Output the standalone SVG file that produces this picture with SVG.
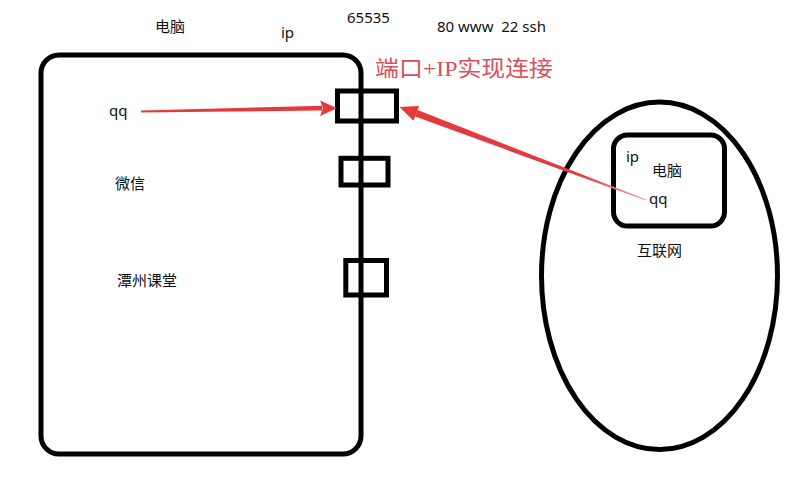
<svg xmlns="http://www.w3.org/2000/svg" width="809" height="499" viewBox="0 0 809 499">
<defs>
<style>
.ln{fill:none;stroke:#000;stroke-width:5}
.t{font-family:"Noto Sans","Noto Sans CJK SC",sans-serif;font-size:15px;fill:#111}
.red{fill:#e63a3a}
</style>
<linearGradient id="fade" gradientUnits="userSpaceOnUse" x1="416" y1="113" x2="646" y2="200">
<stop offset="0" stop-color="#e63a3a"/>
<stop offset="0.7" stop-color="#e03c45"/>
<stop offset="1" stop-color="#f0a0a8"/>
</linearGradient>
</defs>
<rect width="809" height="499" fill="#fff"/>
<g id="computer">
<rect class="ln" x="41" y="55" width="320" height="399" rx="18"/>
<text class="t" x="155" y="32">电脑</text>
<text class="t" x="281" y="38">ip</text>
<text class="t" x="109" y="116">qq</text>
<text class="t" x="115" y="189">微信</text>
<text class="t" x="117" y="286">潭州课堂</text>
</g>
<g id="ports">
<rect class="ln" x="337.5" y="91" width="59" height="30"/>
<rect class="ln" x="341" y="158.3" width="47" height="26.7"/>
<rect class="ln" x="345.8" y="260.5" width="40.7" height="34.5"/>
<text class="t" x="347" y="23">65535</text>
<text class="t" x="437" y="32" xml:space="preserve">80 www  22 ssh</text>
</g>
<g id="internet">
<ellipse class="ln" cx="659.5" cy="275.8" rx="118" ry="173.7"/>
<text class="t" x="637" y="256">互联网</text>
</g>
<g id="remote">
<rect class="ln" x="613.5" y="135" width="111" height="91" rx="14"/>
<text class="t" x="626" y="162">ip</text>
<text class="t" x="652" y="176">电脑</text>
<text class="t" x="649" y="204">qq</text>
</g>
<g id="label">
<text x="375" y="76" textLength="178" lengthAdjust="spacingAndGlyphs" style="font-family:'Liberation Serif','Noto Sans CJK SC',serif;font-size:22px;fill:#d9505a">端口+IP实现连接</text>
</g>
<g id="connectors">
<polygon class="red" points="141,110.6 322,105.8 322,110.6 141,112.4"/>
<polygon class="red" points="337,108.2 320,100.5 323,108.2 320,116"/>
<polygon fill="url(#fade)" points="417.5,110.1 646.2,199.5 645.8,200.5 415.1,116.6"/>
<polygon class="red" points="399.5,107 419.1,105.9 416.3,113.3 413.5,120.8"/>
</g>
</svg>
